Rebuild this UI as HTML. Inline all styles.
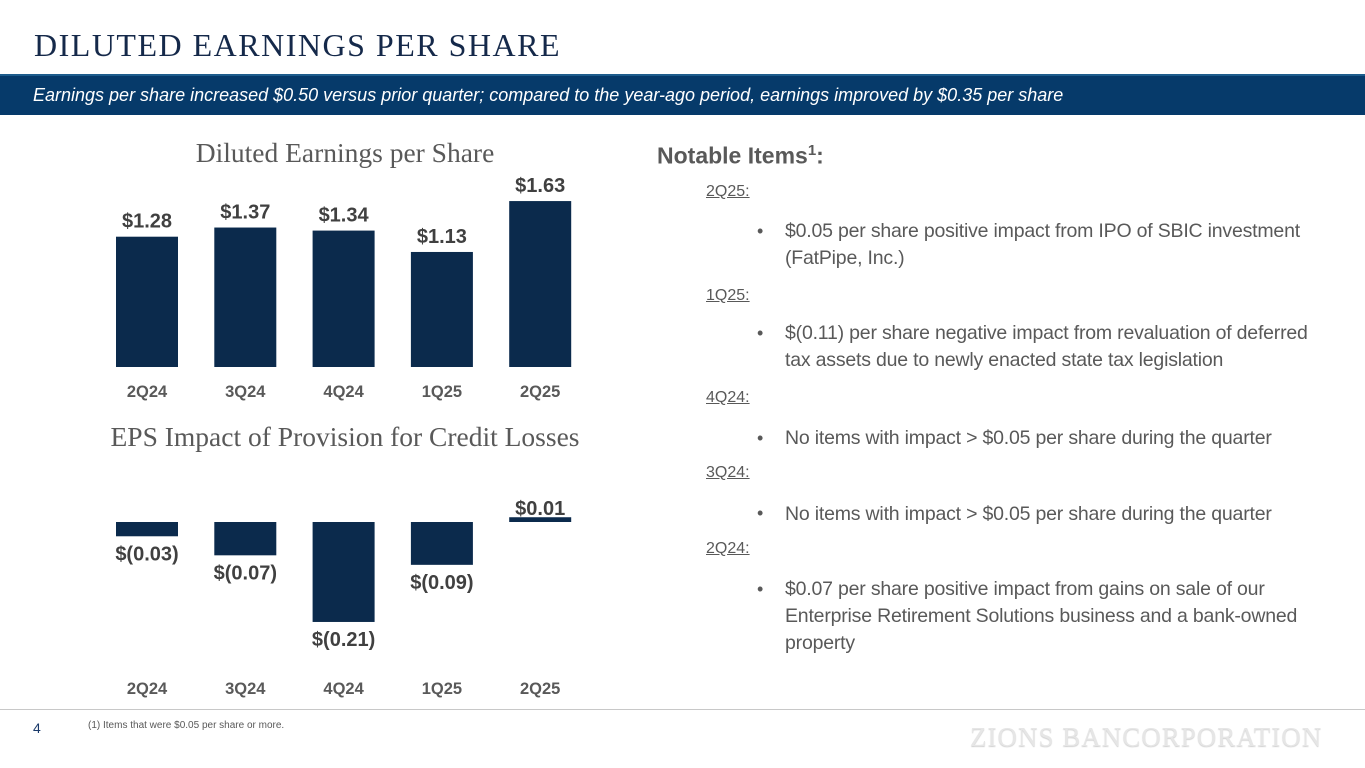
<!DOCTYPE html>
<html><head><meta charset="utf-8"><style>
body{margin:0;width:1365px;height:768px;background:#fff;position:relative;overflow:hidden;font-family:"Liberation Sans",sans-serif}
.abs{position:absolute}
.r{color:#595959;font-size:16px;position:absolute;left:706px;text-decoration:underline}
.b{color:#595959;font-size:19.5px;position:absolute;left:785px;line-height:27px;width:550px;letter-spacing:-0.2px}
.dot{position:absolute;left:757px;color:#595959;font-size:18px}
</style></head><body>
<div class="abs" style="left:34px;top:27px;font-family:'Liberation Serif',serif;font-size:32px;color:#15294a;letter-spacing:1.5px">DILUTED EARNINGS PER SHARE</div>
<div class="abs" style="left:0;top:74px;width:1365px;height:41px;background:#063a6a;border-top:2px solid #1d5c8c;box-sizing:border-box"></div>
<div class="abs" style="left:33px;top:85px;font-size:18px;font-style:italic;color:#fff">Earnings per share increased $0.50 versus prior quarter; compared to the year-ago period, earnings improved by $0.35 per share</div>

<svg class="abs" style="left:0;top:0" width="640" height="710" id="svg"></svg>

<div class="abs" style="left:657px;top:142px;font-size:23px;font-weight:bold;color:#595959">Notable Items<sup style="font-size:15px">1</sup>:</div>
<div class="r" style="top:183px">2Q25:</div>
<div class="dot" style="top:221px">•</div><div class="b" style="top:218px">$0.05 per share positive impact from IPO of SBIC investment (FatPipe, Inc.)</div>
<div class="r" style="top:287px">1Q25:</div>
<div class="dot" style="top:323px">•</div><div class="b" style="top:320px">$(0.11) per share negative impact from revaluation of deferred tax assets due to newly enacted state tax legislation</div>
<div class="r" style="top:389px">4Q24:</div>
<div class="dot" style="top:428px">•</div><div class="b" style="top:425px">No items with impact &gt; $0.05 per share during the quarter</div>
<div class="r" style="top:464px">3Q24:</div>
<div class="dot" style="top:503px">•</div><div class="b" style="top:501px">No items with impact &gt; $0.05 per share during the quarter</div>
<div class="r" style="top:540px">2Q24:</div>
<div class="dot" style="top:579px">•</div><div class="b" style="top:576px">$0.07 per share positive impact from gains on sale of our Enterprise Retirement Solutions business and a bank-owned property</div>

<div class="abs" style="left:0;top:709px;width:1365px;height:1px;background:#c8c8c8"></div>
<div class="abs" style="left:33px;top:720px;font-size:14px;color:#1a3a6a">4</div>
<div class="abs" style="left:88px;top:720px;font-size:10px;color:#595959">(1) Items that were $0.05 per share or more.</div>
<div class="abs" style="left:970px;top:722px;font-family:'Liberation Serif',serif;font-size:27px;color:#e6e6e6;letter-spacing:1px;text-shadow:0 1px 1px #cfcfcf">ZIONS BANCORPORATION</div>

<script>
const categories=["2Q24","3Q24","4Q24","1Q25","2Q25"];
const epsValues=[1.28,1.37,1.34,1.13,1.63];
const epsLabels=["$1.28","$1.37","$1.34","$1.13","$1.63"];
const provValues=[-0.03,-0.07,-0.21,-0.09,0.01];
const provLabels=["$(0.03)","$(0.07)","$(0.21)","$(0.09)","$0.01"];
const svg=document.getElementById('svg');
const NS="http://www.w3.org/2000/svg";
function el(t,a,txt){const e=document.createElementNS(NS,t);for(const k in a)e.setAttribute(k,a[k]);if(txt!=null)e.textContent=txt;svg.appendChild(e);return e;}
const xc=i=>147+i*98.3;
const BW=62;
let t=el('text',{x:345,y:162,'text-anchor':'middle','font-family':'Liberation Serif,serif','font-size':27.5,fill:'#595959'},'Diluted Earnings per Share');


t=el('text',{x:345,y:446,'text-anchor':'middle','font-family':'Liberation Serif,serif','font-size':27.5,fill:'#595959'},'EPS Impact of Provision for Credit Losses');


const y1=v=>367-v*101.8;
epsValues.forEach((v,i)=>{
 const r=el('rect',{x:xc(i)-BW/2,y:y1(v),width:BW,height:367-y1(v),fill:'#0b2a4c'});
 
 
 const l=el('text',{x:xc(i),y:y1(v)-9,'text-anchor':'middle','font-size':20,'font-weight':'bold',fill:'#404040'},epsLabels[i]);
 
 
 const c=el('text',{x:xc(i),y:397,'text-anchor':'middle','font-size':16.5,'font-weight':'bold',fill:'#595959'},categories[i]);
 
 
});
const z=522,s=476;
const y2=v=>z-v*s;
provValues.forEach((v,i)=>{
 const top=Math.min(y2(v),z),h=Math.max(Math.abs(v*s),2);
 const r=el('rect',{x:xc(i)-BW/2,y:v>0?z-h:top,width:BW,height:h,fill:'#0b2a4c'});
 
 
 const ly=v<0?y2(v)+24:z-7;
 const l=el('text',{x:xc(i),y:ly,'text-anchor':'middle','font-size':20,'font-weight':'bold',fill:'#404040'},provLabels[i]);
 
 
 const c=el('text',{x:xc(i),y:694,'text-anchor':'middle','font-size':16.5,'font-weight':'bold',fill:'#595959'},categories[i]);
 
 
});
</script>
</body></html>
